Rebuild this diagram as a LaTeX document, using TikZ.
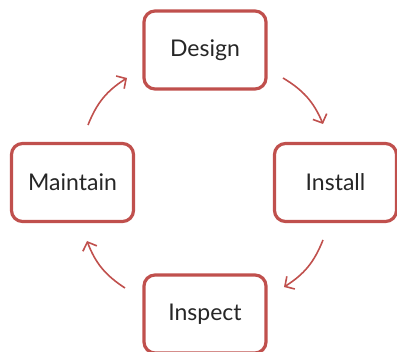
\documentclass[tikz,border=0pt]{standalone}
\usepackage{fontspec}
\setmainfont{Lato}
\usepackage{tikz}
\usetikzlibrary{arrows.meta}
\definecolor{boxred}{RGB}{192,80,77}
\tikzset{
    stagebox/.style = {rectangle, rounded corners=11pt, draw=boxred, line width=3.2pt, fill=white, align=center, font=\fontsize{23}{27}\selectfont, minimum width=122pt, minimum height=78pt, text=black!85},
    cyclearrow/.style = {draw=boxred, line width=1.6pt, -{Straight Barb[length=7pt,width=15pt,line width=1.6pt]}}
}
\begin{document}
\begin{tikzpicture}[x=1pt, y=1pt]
\useasboundingbox (0,0) rectangle (397,-352);
\node[stagebox] at (205,-50) (design) {Design};
\node[stagebox] at (335.5,-182.5) (install) {Install};
\node[stagebox] at (205,-314) (inspect) {Inspect};
\node[stagebox] at (72.5,-182.5) (maintain) {Maintain};
%
\coordinate (a1) at (283,-78);
\coordinate (a2) at (323,-124);
\coordinate (b1) at (323,-240);
\coordinate (b2) at (284,-287);
\coordinate (c1) at (125,-288);
\coordinate (c2) at (87,-241);
\coordinate (d1) at (88,-125);
\coordinate (d2) at (127,-78);
%
\draw[cyclearrow] (a1) to[bend left=18] (a2);
\draw[cyclearrow] (b1) to[bend left=18] (b2);
\draw[cyclearrow] (c1) to[bend left=18] (c2);
\draw[cyclearrow] (d1) to[bend left=18] (d2);
\end{tikzpicture}
\end{document}
